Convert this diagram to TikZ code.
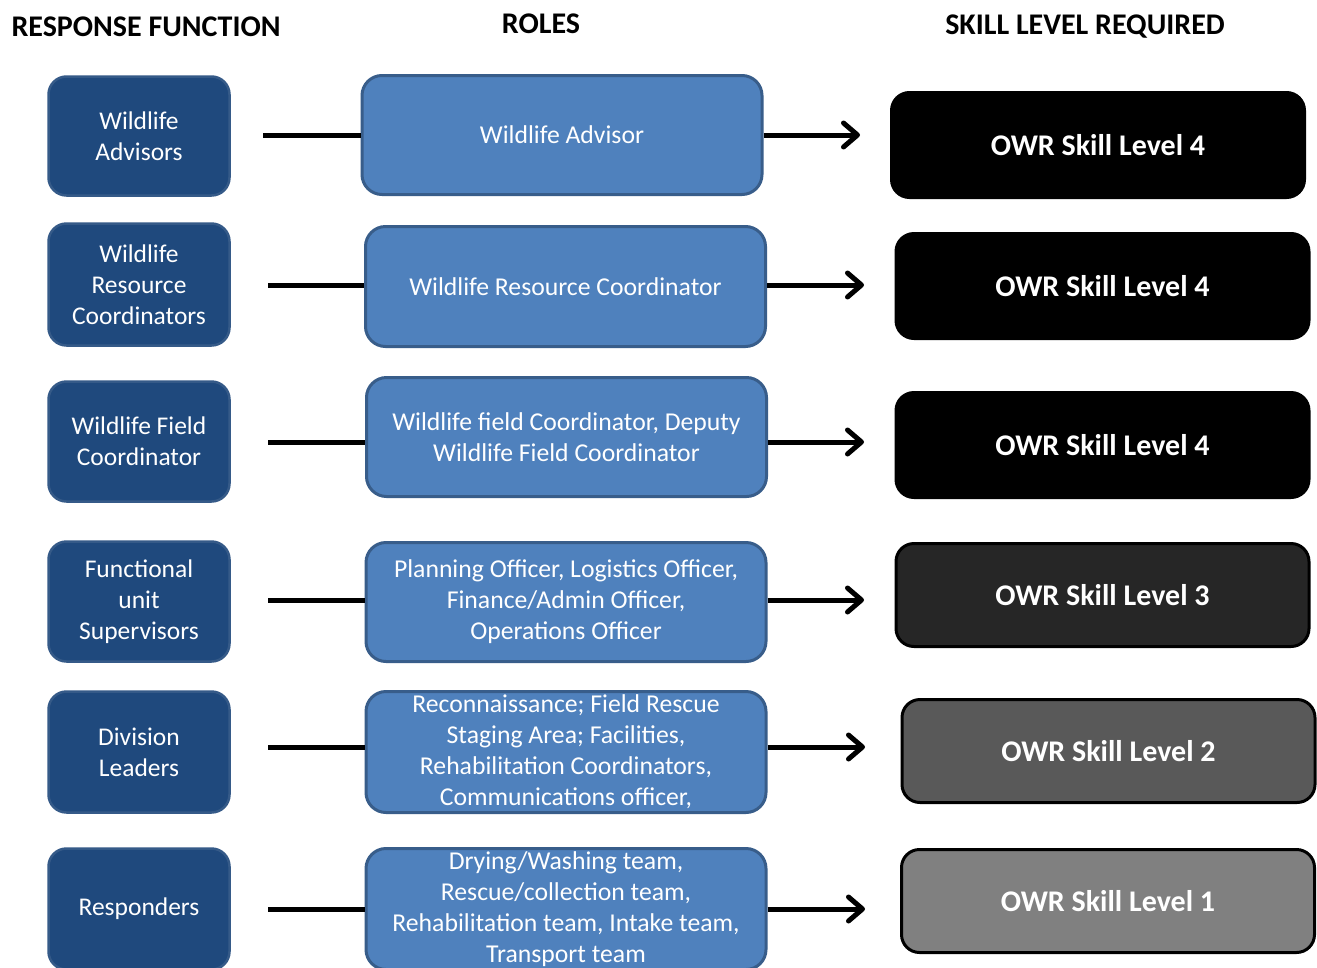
\documentclass[tikz,border=0pt]{standalone}
\usepackage{fontspec}
\setmainfont{Carlito}
\usetikzlibrary{arrows.meta}
\definecolor{navy}{HTML}{1F497D}
\definecolor{navyedge}{HTML}{355A88}
\definecolor{steel}{HTML}{4F81BD}
\definecolor{steeledge}{HTML}{385D8A}
\tikzset{
  head/.style={font=\fontsize{30}{36}\selectfont\bfseries, text=black},
  rfbox/.style={draw=navyedge, line width=2.5pt, fill=navy, rounded corners=18pt,
    text=white, align=center, font=\fontsize{25.5}{31}\selectfont,
    minimum width=181pt, inner sep=0pt},
  rolebox/.style={draw=steeledge, line width=3pt, fill=steel, rounded corners=20pt,
    text=white, align=center, font=\fontsize{25.7}{31}\selectfont,
    minimum width=400pt, inner sep=0pt},
  skillbox/.style={draw=black, line width=3pt, fill=#1, rounded corners=18pt,
    text=white, align=center, font=\fontsize{30}{36}\selectfont\bfseries,
    minimum width=413pt, inner sep=0pt},
  link/.style={line width=5pt, draw=black},
  pointer/.style={line width=5pt, draw=black,
    -{Straight Barb[length=14pt,width=24pt,line cap=round,line join=round]}}
}
\begin{document}
\begin{tikzpicture}[x=1pt,y=-1pt]
\useasboundingbox (0,0) rectangle (1317,967);
\clip (0,0) rectangle (1317,967);
\fill[white] (0,0) rectangle (1317,967);

% column headings
\node[head, anchor=west] (h1) at (8,27) {RESPONSE FUNCTION};
\node[head] (h2) at (541,24) {ROLES};
\node[head] (h3) at (1085,27) {SKILL LEVEL REQUIRED};

% response functions
\node[rfbox, minimum height=119pt] (f1) at (139,136) {Wildlife\\Advisors};
\node[rfbox, minimum height=122pt] (f2) at (139,284.5) {Wildlife\\Resource\\Coordinators};
\node[rfbox, minimum height=120pt] (f3) at (139,441.5) {Wildlife Field\\Coordinator};
\node[rfbox, minimum height=120pt] (f4) at (139,601.5) {Functional\\unit\\Supervisors};
\node[rfbox, minimum height=121pt] (f5) at (139,752) {Division\\Leaders};
\node[rfbox, minimum height=121pt] (f6) at (139,909) {Responders};

% roles
\node[rolebox, minimum height=119pt] (r1) at (562,135) {Wildlife Advisor};
\node[rolebox, minimum height=120pt] (r2) at (565.5,286.5) {Wildlife Resource Coordinator};
\node[rolebox, minimum height=119pt] (r3) at (566.5,437) {Wildlife field Coordinator, Deputy\\Wildlife Field Coordinator};
\node[rolebox, minimum height=119pt] (r4) at (566,602) {Planning Officer, Logistics Officer,\\Finance/Admin Officer,\\Operations Officer};
\node[rolebox, minimum height=121pt] (r5) at (566,752) {Reconnaissance; Field Rescue\\Staging Area; Facilities,\\Rehabilitation Coordinators,\\Communications officer,};
\node[rolebox, minimum height=121pt] (r6) at (566,909) {Drying/Washing team,\\Rescue/collection team,\\Rehabilitation team, Intake team,\\Transport team};

% skill levels
\node[skillbox=black, minimum height=105pt] (s1) at (1098,145) {OWR Skill Level 4};
\node[skillbox=black, minimum height=105pt] (s2) at (1102.5,286) {OWR Skill Level 4};
\node[skillbox=black, minimum height=105pt] (s3) at (1102.5,445) {OWR Skill Level 4};
\node[skillbox={black!85}, minimum height=103pt] (s4) at (1102.5,595) {OWR Skill Level 3};
\node[skillbox={black!65}, minimum height=103pt] (s5) at (1108.5,751) {OWR Skill Level 2};
\node[skillbox={black!50}, minimum height=103pt] (s6) at (1108,901) {OWR Skill Level 1};

% connector end points
\coordinate (a1) at (263,135);
\coordinate (a2) at (268,285);
\coordinate (a3) at (268,442);
\coordinate (a4) at (268,600);
\coordinate (a5) at (268,747);
\coordinate (a6) at (268,909);
\coordinate (t1) at (860,135);
\coordinate (t2) at (864,285);
\coordinate (t3) at (864,442);
\coordinate (t4) at (864,600);
\coordinate (t5) at (865,747);
\coordinate (t6) at (865,909);

% connectors
\foreach \i in {1,...,6}{
  \draw[link] (a\i) -- (a\i -| r\i.west);
  \draw[pointer] (a\i -| r\i.east) -- (t\i);
}
\end{tikzpicture}
\end{document}
